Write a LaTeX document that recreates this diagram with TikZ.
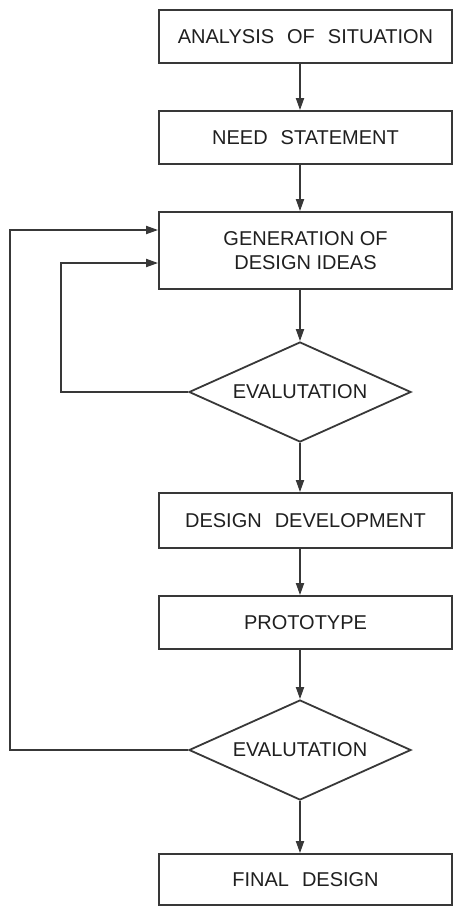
\documentclass[tikz,border=0pt]{standalone}
\usepackage{fontspec}
\setmainfont{Liberation Sans}
\usetikzlibrary{shapes.geometric,arrows.meta}
\newcommand\wgap{\hspace{13pt}}
\begin{document}
\begin{tikzpicture}[x=1pt,y=-1pt,
  line width=1.8pt,
  box/.style={draw=black!78, rectangle, minimum width=293pt, inner sep=0pt,
    font=\fontsize{20}{24}\selectfont, text=black!88, align=center},
  dia/.style={draw=black!78, diamond, aspect=2.22, minimum width=222pt, minimum height=100pt,
    inner sep=0pt, font=\fontsize{20}{24}\selectfont, text=black!88},
  arr/.style={-{Triangle[length=12pt,width=8pt]}, draw=black!78}]
\useasboundingbox (0,0) rectangle (453,906);

\node[box, minimum height=53pt] (b1) at (305.5,36.5) {ANALYSIS\wgap OF\wgap SITUATION};
\node[box, minimum height=53pt] (b2) at (305.5,137.5) {NEED\wgap STATEMENT};
\node[box, minimum height=77pt] (b3) at (305.5,250.5) {GENERATION OF\\DESIGN IDEAS};
\node[dia] (d1) at (300,392) {EVALUTATION};
\node[box, minimum height=55pt] (b5) at (305.5,520.5) {DESIGN\wgap DEVELOPMENT};
\node[box, minimum height=53pt] (b6) at (305.5,622.5) {PROTOTYPE};
\node[dia] (d2) at (300,750) {EVALUTATION};
\node[box, minimum height=51pt] (b8) at (305.5,879.5) {FINAL\wgap DESIGN};

\coordinate (o1) at (10,230);
\coordinate (i1) at (61,263);

\draw[arr] (b1.south -| d1) -- (b2.north -| d1);
\draw[arr] (b2.south -| d1) -- (b3.north -| d1);
\draw[arr] (b3.south -| d1) -- (d1.north);
\draw[arr] (d1.south) -- (b5.north -| d1);
\draw[arr] (b5.south -| d1) -- (b6.north -| d1);
\draw[arr] (b6.south -| d1) -- (d2.north);
\draw[arr] (d2.south) -- (b8.north -| d1);

\draw[arr] (d1.west) -| (i1) -- (b3.west |- i1);
\draw[arr] (d2.west) -| (o1) -- (b3.west |- o1);
\end{tikzpicture}
\end{document}
